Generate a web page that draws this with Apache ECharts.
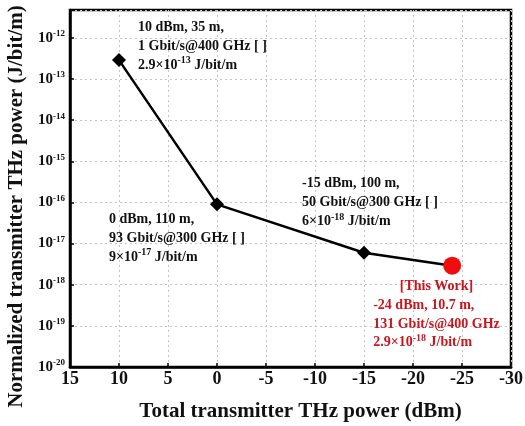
<!DOCTYPE html>
<html>
<head>
<meta charset="utf-8">
<script src="https://cdn.jsdelivr.net/npm/echarts@6/dist/echarts.min.js"></script>
<style>
  html, body { margin: 0; padding: 0; background: #fff; }
  #chart { width: 525px; height: 426px; }
</style>
</head>
<body>
<div id="chart"></div>
<script>
// data
const powerDbm = [10, 0, -15, -24];
const energyPerBit = [2.9e-13, 9e-17, 6e-18, 2.9e-18];
const noteLines = [
  ['10 dBm, 35 m,', '1 Gbit/s@400 GHz [ ]', ['2.9×10', '-13', ' J/bit/m']],
  ['0 dBm, 110 m,', '93 Gbit/s@300 GHz [ ]', ['9×10', '-17', ' J/bit/m']],
  ['-15 dBm, 100 m,', '50 Gbit/s@300 GHz [ ]', ['6×10', '-18', ' J/bit/m']],
  ['[This Work]', '-24 dBm, 10.7 m,', '131 Gbit/s@400 GHz', ['2.9×10', '-18', ' J/bit/m']],
];
const xTicks = { min: -30, max: 15, step: 5 };
const yExpRange = { min: -20, top: -11.32 };

const FONT = '"Liberation Serif", "Times New Roman", serif';
const INK = '#111';
const RED_TXT = '#c8161d';

// label placement relative to each point (dx, dy of block middle-left)
const noteOffset = [[19, -14], [-108, 34], [-62, -50], [-79, 49]];

function noteText(lines, isOurs) {
  return lines.map((ln, k) => {
    if (Array.isArray(ln)) return `{t|${ln[0]}}{s|${ln[1]}}{t|${ln[2]}}`;
    if (isOurs && k === 0) return `{c|${ln}}`;
    return `{t|${ln}}`;
  }).join('\n');
}

function richFor(color, lh) {
  return {
    t: { fontFamily: FONT, fontWeight: 'bold', fontSize: 14, color, lineHeight: lh },
    c: { fontFamily: FONT, fontWeight: 'bold', fontSize: 14, color, lineHeight: lh, align: 'center' },
    s: { fontFamily: FONT, fontWeight: 'bold', fontSize: 10, color, lineHeight: 10, padding: [0, 0, lh - 10, 0] },
  };
}

const seriesData = powerDbm.map((x, i) => {
  const ours = i === powerDbm.length - 1;
  const lh = ours ? 18.7 : 19;
  return {
    value: [x, energyPerBit[i]],
    symbol: ours ? 'circle' : 'diamond',
    symbolSize: ours ? 18 : 14,
    itemStyle: { color: ours ? '#f00d0d' : '#000' },
    label: {
      show: true,
      position: 'inside',
      align: 'left',
      verticalAlign: 'middle',
      offset: noteOffset[i],
      formatter: () => noteText(noteLines[i], ours),
      rich: richFor(ours ? RED_TXT : INK, lh),
    },
  };
});

const chart = echarts.init(document.getElementById('chart'));
chart.setOption({
  backgroundColor: '#fff',
  animation: false,
  grid: {
    left: 70, right: 14, top: 10, bottom: 59,
    outerBoundsMode: 'none',
    containLabel: false,
    show: true, borderColor: '#000', borderWidth: 2.5, backgroundColor: 'transparent',
  },
  xAxis: {
    type: 'value',
    inverse: true,
    min: xTicks.min,
    max: xTicks.max,
    interval: xTicks.step,
    name: 'Total transmitter THz power (dBm)',
    nameLocation: 'middle',
    nameGap: 34,
    nameTextStyle: { fontFamily: FONT, fontWeight: 'bold', fontSize: 21, color: INK, padding: [0, 0, 0, 20] },
    axisLine: { show: true, lineStyle: { color: '#000', width: 2.5 } },
    axisTick: { show: true, inside: true, length: 4, lineStyle: { color: '#000', width: 1.5 } },
    axisLabel: { fontFamily: FONT, fontWeight: 'bold', fontSize: 18, color: INK, margin: 3 },
    splitLine: { show: true, lineStyle: { color: '#c4c4c4', type: [2, 3], width: 1 } },
  },
  yAxis: {
    type: 'log',
    logBase: 10,
    min: Math.pow(10, yExpRange.min),
    max: Math.pow(10, yExpRange.top),
    splitNumber: 9,
    name: 'Normalized transmitter THz power (J/bit/m)',
    nameLocation: 'middle',
    nameGap: 43,
    nameTextStyle: { fontFamily: FONT, fontWeight: 'bold', fontSize: 21, color: INK, padding: [0, 36, 0, 0] },
    axisLine: { show: true, onZero: false, lineStyle: { color: '#000', width: 2.5 } },
    axisTick: { show: true, inside: true, length: 4, lineStyle: { color: '#000', width: 1.5 } },
    axisLabel: {
      margin: 5,
      formatter: (v) => {
        const e = Math.log10(v);
        const r = Math.round(e);
        if (Math.abs(e - r) > 1e-6) return '';
        return `{b|10}{s|${r}}`;
      },
      rich: {
        b: { fontFamily: FONT, fontWeight: 'bold', fontSize: 15, color: INK, lineHeight: 16 },
        s: { fontFamily: FONT, fontWeight: 'bold', fontSize: 9, color: INK, lineHeight: 8, padding: [0, 0, 8, 0] },
      },
    },
    splitLine: { show: true, lineStyle: { color: '#c4c4c4', type: [2, 3], width: 1 } },
  },
  series: [
    {
      type: 'line',
      data: seriesData,
      lineStyle: { color: '#000', width: 2.5 },
      z: 3,
    },
  ],
});
</script>
</body>
</html>
